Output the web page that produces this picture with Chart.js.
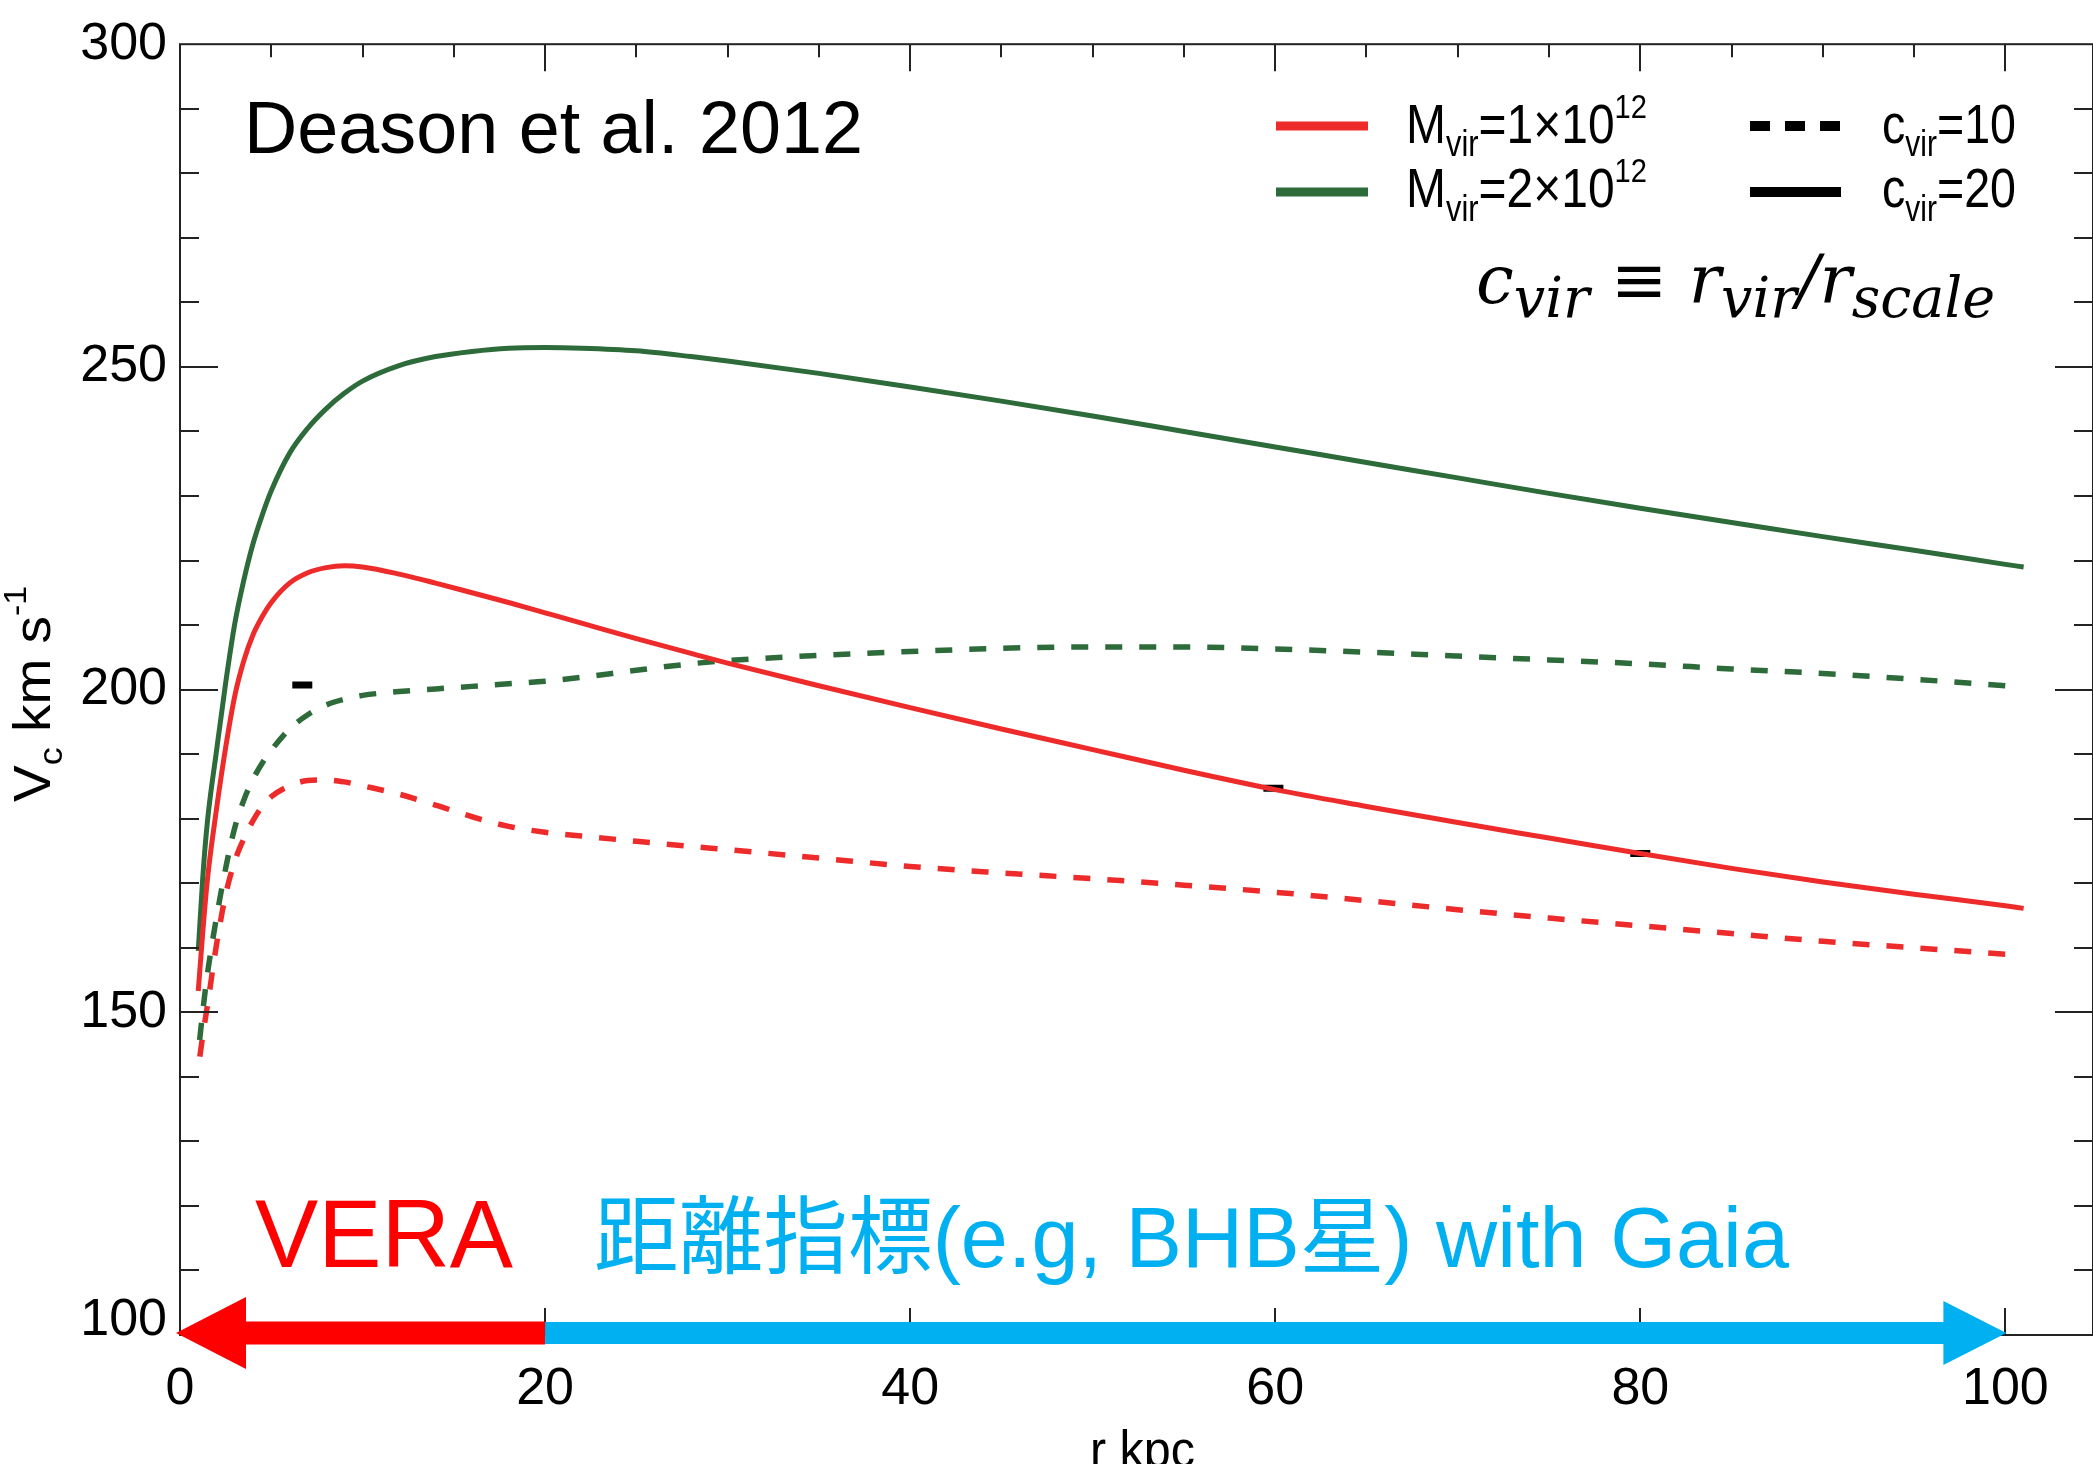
<!DOCTYPE html>
<html>
<head>
<meta charset="utf-8">
<script src="https://cdn.jsdelivr.net/npm/chart.js@4.4.1/dist/chart.umd.min.js"></script>
<style>
html, body { margin: 0; padding: 0; background: #fff; overflow: hidden; }
#wrap { width: 2110px; height: 1500px; }
</style>
</head>
<body>
<div id="wrap"><canvas id="chartVc" width="2110" height="1500"></canvas></div>
<script>
// radio (kpc)
const radiusSolid = [1, 1.25, 1.5, 2, 2.5, 3, 3.5, 4, 4.5, 5, 6, 7, 8, 9, 10, 12, 14, 16, 18, 20, 22, 25, 28, 30, 35, 40, 45, 50, 55, 60, 65, 70, 75, 80, 85, 90, 95, 100, 101];
const radiusDashed = [1, 1.25, 1.5, 2, 2.5, 3, 3.5, 4, 4.5, 5, 6, 7, 8, 9, 10, 12, 14, 16, 18, 20, 22, 25, 28, 30, 35, 40, 45, 50, 55, 60, 65, 70, 75, 80, 85, 90, 95, 100];

// Vc (km/s)
const vcM1c20 = [153.3, 162.5, 170.5, 181.5, 191.0, 199.0, 204.5, 208.5, 211.3, 213.5, 216.5, 218.1, 218.9, 219.2, 219.0, 217.9, 216.5, 215.0, 213.5, 211.9, 210.3, 207.9, 205.6, 204.1, 200.6, 197.2, 193.9, 190.7, 187.5, 184.5, 181.9, 179.4, 177.0, 174.6, 172.3, 170.2, 168.3, 166.5, 166.1];
const vcM2c20 = [159.5, 171.0, 179.5, 190.5, 201.0, 210.2, 217.0, 222.6, 227.0, 230.8, 236.6, 240.5, 243.5, 245.9, 247.8, 250.2, 251.6, 252.4, 252.9, 253.0, 252.9, 252.5, 251.6, 250.9, 249.0, 246.9, 244.7, 242.4, 240.0, 237.6, 235.2, 232.8, 230.4, 228.1, 225.9, 223.7, 221.6, 219.4, 219.0];
const vcM2c10 = [143.7, 150.2, 155.9, 164.7, 172.3, 178.6, 182.9, 186.1, 188.6, 190.6, 193.9, 196.1, 197.6, 198.5, 199.1, 199.7, 200.1, 200.5, 200.9, 201.3, 201.9, 203.0, 204.0, 204.5, 205.3, 205.9, 206.4, 206.6, 206.6, 206.3, 205.8, 205.2, 204.6, 204.0, 203.2, 202.5, 201.6, 200.6];
const vcM1c10 = [141.3, 146.5, 151.0, 160.5, 168.2, 173.4, 176.9, 179.7, 181.9, 183.4, 185.1, 185.9, 186.0, 185.7, 185.1, 183.8, 182.1, 180.3, 178.8, 177.9, 177.3, 176.5, 175.7, 175.2, 173.9, 172.6, 171.6, 170.7, 169.7, 168.6, 167.3, 165.9, 164.6, 163.4, 162.2, 161.0, 160.0, 159.0];

// marcas negras
const markR = [6.7, 59.9, 80.0];
const markVc = [200.7, 184.7, 174.6];

const xTickValues = [0, 20, 40, 60, 80, 100];
const yTickValues = [100, 150, 200, 250, 300];

const RED = '#EE2B2B';
const GREEN = '#2E6B3B';
const SANS = "'Liberation Sans', Arial, sans-serif";

function toPoints(xs, ys) {
    return xs.map((x, i) => ({ x: x, y: ys[i] }));
}

// texto con subindices / superindices, comprimido a un ancho dado
function drawRich(ctx, parts, x, y, fitWidth) {
    let w = 0;
    parts.forEach(p => { ctx.font = p[1]; w += ctx.measureText(p[0]).width; });
    const sx = fitWidth ? fitWidth / w : 1;
    ctx.save();
    ctx.translate(x, y);
    ctx.scale(sx, 1);
    ctx.textBaseline = 'alphabetic';
    ctx.textAlign = 'left';
    let cx = 0;
    parts.forEach(p => {
        ctx.font = p[1];
        ctx.fillText(p[0], cx, p[2] || 0);
        cx += ctx.measureText(p[0]).width;
    });
    ctx.restore();
}

const frameTicksPlugin = {
    id: 'frameTicks',
    afterDatasetsDraw(chart) {
        const { ctx, chartArea: a, scales: { x, y } } = chart;
        ctx.save();
        ctx.strokeStyle = '#222';
        ctx.lineWidth = 2;
        ctx.strokeRect(a.left, a.top, a.right - a.left, a.bottom - a.top);
        ctx.beginPath();
        for (let v = 0; v <= 100; v += 5) {
            const px = Math.round(x.getPixelForValue(v));
            const len = v % 20 === 0 ? 27 : 13;
            ctx.moveTo(px, a.top); ctx.lineTo(px, a.top + len);
            ctx.moveTo(px, a.bottom); ctx.lineTo(px, a.bottom - len);
        }
        for (let v = 110; v < 300; v += 10) {
            const py = Math.round(y.getPixelForValue(v));
            const len = v % 50 === 0 ? 38 : 19;
            ctx.moveTo(a.left, py); ctx.lineTo(a.left + len, py);
            ctx.moveTo(a.right, py); ctx.lineTo(a.right - len, py);
        }
        ctx.stroke();
        ctx.restore();
    }
};

const annotationsPlugin = {
    id: 'annotations',
    afterDraw(chart) {
        const { ctx, scales: { x, y } } = chart;
        ctx.save();

        // flechas VERA / Gaia
        const x0 = x.getPixelForValue(0);
        const x20 = x.getPixelForValue(20);
        const x100 = x.getPixelForValue(100);
        const yc = y.getPixelForValue(100) - 2;
        ctx.fillStyle = '#FF0000';
        ctx.beginPath();
        ctx.moveTo(x0 - 4, yc);
        ctx.lineTo(x0 + 66, yc - 36);
        ctx.lineTo(x0 + 66, yc - 11.5);
        ctx.lineTo(x20, yc - 11.5);
        ctx.lineTo(x20, yc + 11.5);
        ctx.lineTo(x0 + 66, yc + 11.5);
        ctx.lineTo(x0 + 66, yc + 36);
        ctx.closePath();
        ctx.fill();
        ctx.fillStyle = '#00B0F0';
        ctx.beginPath();
        ctx.moveTo(x20, yc - 11);
        ctx.lineTo(x100 - 62, yc - 11);
        ctx.lineTo(x100 - 62, yc - 32);
        ctx.lineTo(x100 + 1, yc);
        ctx.lineTo(x100 - 62, yc + 32);
        ctx.lineTo(x100 - 62, yc + 11);
        ctx.lineTo(x20, yc + 11);
        ctx.closePath();
        ctx.fill();

        // textos
        ctx.fillStyle = '#000';
        drawRich(ctx, [['Deason et al. 2012', '74px ' + SANS, 0]], 244, 153, 619);
        ctx.fillStyle = '#FF0000';
        drawRich(ctx, [['VERA', '96px ' + SANS, 0]], 255, 1267, 258);
        ctx.fillStyle = '#00B0F0';
        drawRich(ctx, [['距離指標(e.g, BHB星) with Gaia', "85px 'Liberation Sans', 'Noto Sans CJK JP', sans-serif", 0]], 594, 1267, 1195);

        // leyenda
        ctx.lineCap = 'butt';
        ctx.lineWidth = 9;
        ctx.strokeStyle = RED;
        ctx.beginPath(); ctx.moveTo(1276, 126); ctx.lineTo(1368, 126); ctx.stroke();
        ctx.strokeStyle = GREEN;
        ctx.beginPath(); ctx.moveTo(1276, 192); ctx.lineTo(1368, 192); ctx.stroke();
        ctx.lineWidth = 10;
        ctx.strokeStyle = '#000';
        ctx.setLineDash([20, 15]);
        ctx.beginPath(); ctx.moveTo(1750, 126); ctx.lineTo(1841, 126); ctx.stroke();
        ctx.setLineDash([]);
        ctx.beginPath(); ctx.moveTo(1750, 192); ctx.lineTo(1841, 192); ctx.stroke();

        ctx.fillStyle = '#000';
        const big = '56px ' + SANS;
        const small = '36px ' + SANS;
        drawRich(ctx, [['M', big, 0], ['vir', small, 13], ['=1×10', big, 0], ['12', '34px ' + SANS, -25]], 1406, 143, 241);
        drawRich(ctx, [['M', big, 0], ['vir', small, 14], ['=2×10', big, 0], ['12', '34px ' + SANS, -25]], 1406, 207, 241);
        drawRich(ctx, [['c', big, 0], ['vir', small, 13], ['=10', big, 0]], 1882, 143, 134);
        drawRich(ctx, [['c', big, 0], ['vir', small, 14], ['=20', big, 0]], 1882, 207, 134);

        // definicion de c_vir
        const it = "italic 68px 'DejaVu Serif', serif";
        const itSub = "italic 56px 'DejaVu Serif', serif";
        drawRich(ctx, [
            ['c', it, 0], ['vir', itSub, 14], [' ≡ ', "68px 'DejaVu Serif', serif", 0],
            ['r', it, 0], ['vir', itSub, 14], ['/', it, 0], ['r', it, 0], ['scale', itSub, 14]
        ], 1476, 303, 519);

        // titulos de ejes
        ctx.save();
        ctx.translate(50, 802);
        ctx.rotate(-Math.PI / 2);
        drawRich(ctx, [['V', '52px ' + SANS, 0], ['c', '34px ' + SANS, 12], [' km s', '52px ' + SANS, 0], ['-1', '32px ' + SANS, -24]], 0, 0, 216);
        ctx.restore();
        drawRich(ctx, [['r kpc', '52px ' + SANS, 0]], 1090, 1467, 105);

        ctx.restore();
    }
};

const tickFamily = "'Liberation Sans', Arial, sans-serif";

const vcChart = new Chart(document.getElementById('chartVc').getContext('2d'), {
    type: 'line',
    data: {
        datasets: [
            {
                label: 'Mvir=1e12 cvir=20',
                data: toPoints(radiusSolid, vcM1c20),
                borderColor: RED,
                borderWidth: 5,
                pointRadius: 0,
                cubicInterpolationMode: 'monotone',
                order: 1
            },
            {
                label: 'Mvir=2e12 cvir=20',
                data: toPoints(radiusSolid, vcM2c20),
                borderColor: GREEN,
                borderWidth: 5,
                pointRadius: 0,
                cubicInterpolationMode: 'monotone',
                order: 1
            },
            {
                label: 'Mvir=2e12 cvir=10',
                data: toPoints(radiusDashed, vcM2c10),
                borderColor: GREEN,
                borderWidth: 5.5,
                borderDash: [17, 17],
                pointRadius: 0,
                cubicInterpolationMode: 'monotone',
                order: 2
            },
            {
                label: 'Mvir=1e12 cvir=10',
                data: toPoints(radiusDashed, vcM1c10),
                borderColor: RED,
                borderWidth: 5.5,
                borderDash: [17, 17],
                pointRadius: 0,
                cubicInterpolationMode: 'monotone',
                order: 2
            },
            {
                label: 'marks',
                data: toPoints(markR, markVc),
                showLine: false,
                pointStyle: 'line',
                pointRadius: 10,
                pointBorderWidth: 7,
                pointBorderColor: '#000',
                pointBackgroundColor: '#000',
                order: 10
            }
        ]
    },
    options: {
        responsive: false,
        animation: false,
        devicePixelRatio: 1,
        layout: { padding: { top: 44, right: 11, left: 0, bottom: 0 } },
        plugins: {
            legend: { display: false },
            tooltip: { enabled: false }
        },
        scales: {
            x: {
                type: 'linear',
                min: 0,
                max: 104.8,
                afterBuildTicks: s => { s.ticks = xTickValues.map(v => ({ value: v })); },
                afterFit: s => { s.height = 165; },
                grid: { display: false, drawTicks: false },
                border: { display: false },
                ticks: { font: { family: tickFamily, size: 52 }, color: '#000', padding: 23, maxRotation: 0, autoSkip: false }
            },
            y: {
                type: 'linear',
                min: 100,
                max: 300,
                afterBuildTicks: s => { s.ticks = yTickValues.map(v => ({ value: v })); },
                afterFit: s => { s.width = 180; },
                grid: { display: false, drawTicks: false },
                border: { display: false },
                ticks: {
                    color: '#000',
                    padding: 13,
                    autoSkip: false,
                    // la etiqueta 100 va un poco por encima del eje
                    callback: v => v === 100 ? ['100', ''] : String(v),
                    font: c => (c.tick && c.tick.value === 100)
                        ? { family: tickFamily, size: 52, lineHeight: 0.56 }
                        : { family: tickFamily, size: 52 }
                }
            }
        }
    },
    plugins: [frameTicksPlugin, annotationsPlugin]
});

// que las curvas discontinuas terminen con un trazo
vcChart.data.datasets.forEach((ds, i) => {
    if (!ds.borderDash) return;
    const pts = vcChart.getDatasetMeta(i).data;
    let len = 0;
    for (let k = 1; k < pts.length; k++) {
        len += Math.hypot(pts[k].x - pts[k - 1].x, pts[k].y - pts[k - 1].y);
    }
    const period = ds.borderDash[0] + ds.borderDash[1];
    ds.borderDashOffset = ((ds.borderDash[0] - len) % period + period) % period;
});
vcChart.update('none');
</script>
</body>
</html>
